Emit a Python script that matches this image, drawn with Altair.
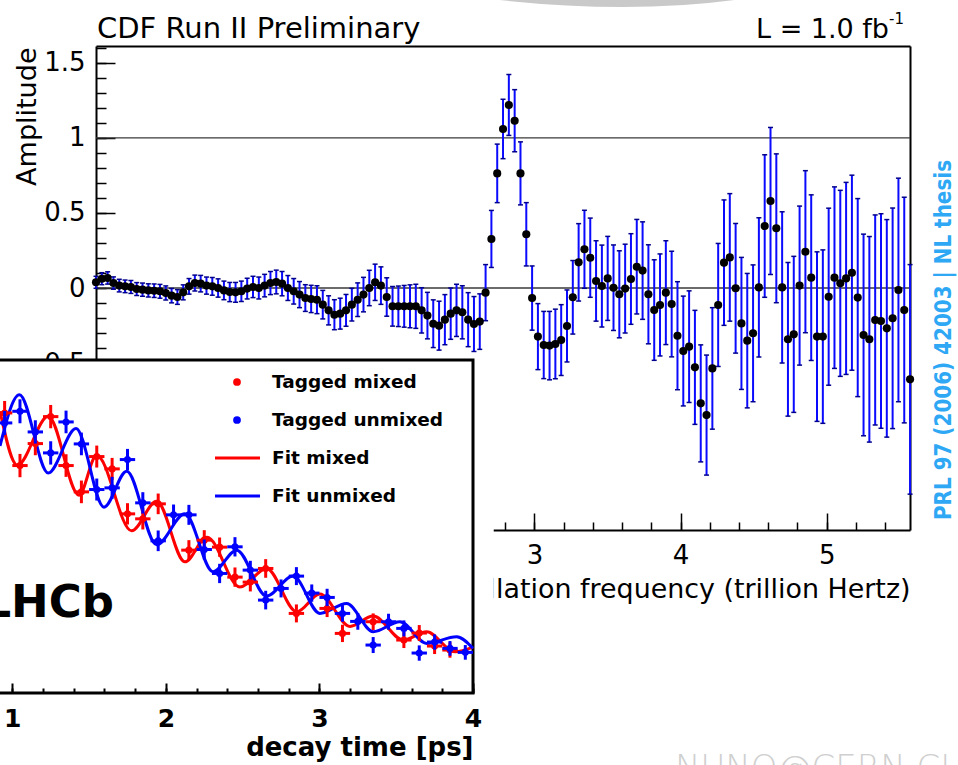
import altair as alt
import numpy as np
import pandas as pd

FONT = "DejaVu Sans"

# ---------------- Main panel: CDF amplitude scan ----------------
SCAN_STEP = 0.25                 # scan step in ps^-1
PS_TO_THZ = 1.0 / (2 * np.pi)    # ps^-1 -> trillion Hertz

AMPLITUDE = [
    0.038, 0.062, 0.067, 0.033, 0.016, 0.011, 0.007, -0.007, -0.011, -0.016,
    -0.018, -0.022, -0.033, -0.051, -0.060, -0.029, 0.011, 0.033, 0.029, 0.016,
    0.011, 0.000, -0.016, -0.027, -0.029, -0.022, -0.004, 0.007, 0.000, 0.016,
    0.033, 0.040, 0.029, 0.000, -0.022, -0.044, -0.067, -0.073, -0.078, -0.111,
    -0.149, -0.178, -0.171, -0.149, -0.111, -0.078, -0.044, 0.000, 0.038, 0.016,
    -0.060, -0.122, -0.122, -0.122, -0.122, -0.122, -0.149, -0.184, -0.238, -0.251,
    -0.211, -0.171, -0.149, -0.162, -0.211, -0.240, -0.224, -0.031, 0.327, 0.764,
    1.060, 1.220, 1.115, 0.764, 0.358, -0.067, -0.324, -0.380, -0.384, -0.373,
    -0.347, -0.253, -0.062, 0.171, 0.258, 0.202, 0.047, 0.013, 0.064, 0.002,
    -0.042, -0.004, 0.060, 0.142, 0.116, -0.042, -0.147, -0.113, -0.031, -0.107,
    -0.318, -0.420, -0.391, -0.529, -0.769, -0.847, -0.536, -0.113, 0.169, 0.204,
    -0.002, -0.236, -0.351, -0.302, 0.004, 0.413, 0.580, 0.398, 0.004, -0.342,
    -0.309, 0.016, 0.242, 0.069, -0.324, -0.324, -0.058, 0.069, 0.031, 0.064,
    0.102, -0.064, -0.313, -0.342, -0.213, -0.220, -0.269, -0.202, -0.013, -0.147,
    -0.609,
]
AMP_ERR = [
    0.040, 0.040, 0.041, 0.041, 0.042, 0.042, 0.043, 0.043, 0.044, 0.044,
    0.045, 0.046, 0.047, 0.048, 0.049, 0.050, 0.052, 0.053, 0.055, 0.057,
    0.059, 0.061, 0.062, 0.064, 0.066, 0.068, 0.069, 0.071, 0.073, 0.075,
    0.077, 0.079, 0.081, 0.083, 0.085, 0.087, 0.089, 0.091, 0.093, 0.095,
    0.097, 0.100, 0.103, 0.106, 0.109, 0.112, 0.115, 0.118, 0.121, 0.125,
    0.128, 0.132, 0.135, 0.139, 0.143, 0.147, 0.151, 0.155, 0.159, 0.163,
    0.167, 0.171, 0.174, 0.177, 0.180, 0.183, 0.185, 0.187, 0.190, 0.195,
    0.198, 0.203, 0.207, 0.210, 0.211, 0.214, 0.220, 0.224, 0.228, 0.232,
    0.236, 0.240, 0.245, 0.258, 0.260, 0.264, 0.268, 0.273, 0.280, 0.285,
    0.290, 0.296, 0.302, 0.315, 0.325, 0.330, 0.335, 0.340, 0.346, 0.352,
    0.360, 0.366, 0.372, 0.380, 0.390, 0.400, 0.405, 0.410, 0.418, 0.425,
    0.432, 0.440, 0.448, 0.456, 0.464, 0.475, 0.490, 0.496, 0.504, 0.512,
    0.520, 0.530, 0.540, 0.552, 0.565, 0.578, 0.590, 0.605, 0.620, 0.640,
    0.650, 0.660, 0.672, 0.685, 0.700, 0.715, 0.725, 0.735, 0.745, 0.752,
    0.765,
]
REF_LINES = [0.0, 1.0]

X_MAIN = [0.0, 5.57]
Y_MAIN = [-1.613, 1.613]
X_MAJOR = [0, 1, 2, 3, 4, 5]
X_MINOR = [round(0.2 * k, 1) for k in range(28)]
Y_MAJOR = [-1.5, -1.0, -0.5, 0.0, 0.5, 1.0, 1.5]
Y_MINOR = [round(-1.6 + 0.1 * k, 1) for k in range(33)]

# ---------------- Inset: LHCb decay-time distribution ----------------
BIN_HALF = 0.05
RED_T = [0.95, 1.05, 1.15, 1.25, 1.35, 1.45, 1.55, 1.65, 1.75, 1.85, 1.95, 2.15, 2.25,
         2.35, 2.45, 2.55, 2.65, 2.85, 3.05, 3.15, 3.35, 3.55, 3.65, 3.75, 3.85]
RED_V = [0.841, 0.683, 0.749, 0.830, 0.683, 0.604, 0.710, 0.673, 0.538, 0.523, 0.568, 0.429, 0.459,
         0.438, 0.348, 0.333, 0.374, 0.239, 0.254, 0.179, 0.214, 0.159, 0.180, 0.141, 0.129]
RED_E = [0.036, 0.035, 0.035, 0.035, 0.034, 0.034, 0.033, 0.033, 0.032, 0.032, 0.031, 0.030, 0.030,
         0.029, 0.029, 0.028, 0.028, 0.027, 0.026, 0.026, 0.025, 0.024, 0.024, 0.024, 0.023]
BLUE_T = [0.95, 1.05, 1.15, 1.25, 1.35, 1.45, 1.55, 1.65, 1.75, 1.85, 1.95, 2.05, 2.15, 2.25, 2.35, 2.45,
          2.55, 2.65, 2.75, 2.85, 2.95, 3.05, 3.15, 3.25, 3.35, 3.45, 3.55, 3.65, 3.75, 3.85, 3.95]
BLUE_V = [0.811, 0.846, 0.784, 0.721, 0.814, 0.748, 0.611, 0.616, 0.701, 0.571, 0.457, 0.535, 0.535, 0.431,
          0.359, 0.439, 0.369, 0.279, 0.314, 0.351, 0.300, 0.287, 0.239, 0.215, 0.144, 0.214, 0.194,
          0.120, 0.153, 0.134, 0.122]
BLUE_E = [0.036, 0.036, 0.035, 0.035, 0.034, 0.034, 0.033, 0.033, 0.032, 0.032, 0.031, 0.031, 0.030, 0.030,
          0.029, 0.029, 0.028, 0.028, 0.027, 0.027, 0.026, 0.026, 0.025, 0.025, 0.024, 0.024, 0.024,
          0.023, 0.023, 0.022, 0.022]
FIT_MIXED_T = [0.920, 1.033, 1.234, 1.434, 1.549, 1.777, 1.940, 2.124, 2.268, 2.482, 2.656, 2.852,
               3.003, 3.199, 3.350, 3.546, 3.698, 3.882, 4.000]
FIT_MIXED_V = [0.846, 0.684, 0.831, 0.594, 0.714, 0.487, 0.576, 0.394, 0.468, 0.318, 0.374, 0.244,
               0.297, 0.200, 0.231, 0.159, 0.184, 0.124, 0.138]
FIT_UNMIXED_T = [0.920, 1.046, 1.234, 1.415, 1.597, 1.745, 1.940, 2.124, 2.307, 2.461, 2.656, 2.829,
                 3.003, 3.177, 3.350, 3.524, 3.698, 3.893, 4.000]
FIT_UNMIXED_V = [0.742, 0.896, 0.661, 0.794, 0.558, 0.666, 0.445, 0.538, 0.364, 0.429, 0.291, 0.351,
                 0.239, 0.269, 0.184, 0.214, 0.149, 0.169, 0.134]
LEGEND_LABELS = ["Tagged mixed", "Tagged unmixed", "Fit mixed", "Fit unmixed"]
LEGEND_KIND = ["point", "point", "line", "line"]
RED, BLUE = "#ff0000", "#0000ff"
LEGEND_COLORS = [RED, BLUE, RED, BLUE]

X_INSET = [1.0, 4.0]
Y_INSET = [0.0, 1.0]
INSET_MAJOR = [1, 2, 3, 4]
INSET_MINOR = [round(0.8 + 0.2 * k, 1) for k in range(17)]

# ---------------- scales ----------------
XM = alt.Scale(domain=X_MAIN, range=[96, 910], nice=False, zero=False)
YM = alt.Scale(domain=Y_MAIN, range=[530, 46], nice=False, zero=False)
XI = alt.Scale(domain=X_INSET, range=[12.3, 473], nice=False, zero=False)
YI = alt.Scale(domain=Y_INSET, range=[693, 360], nice=False, zero=False)
LROW = alt.Scale(domain=[0, 3], range=[382, 496], nice=False, zero=False)

# ---------------- data frames ----------------
main_df = pd.DataFrame({"f": np.arange(len(AMPLITUDE)) * SCAN_STEP * PS_TO_THZ,
                        "amp": AMPLITUDE, "err": AMP_ERR})
main_df["lo"] = main_df["amp"] - main_df["err"]
main_df["hi"] = main_df["amp"] + main_df["err"]
ref_df = pd.DataFrame({"h": REF_LINES, "x0": X_MAIN[0], "x1": X_MAIN[1]})


def pts_df(t, v, e):
    d = pd.DataFrame({"t": t, "v": v, "e": e})
    d["lo"], d["hi"] = d.v - d.e, d.v + d.e
    d["tl"], d["th"] = d.t - BIN_HALF, d.t + BIN_HALF
    return d


red_df = pts_df(RED_T, RED_V, RED_E)
blue_df = pts_df(BLUE_T, BLUE_V, BLUE_E)
fit_red_df = pd.DataFrame({"t": FIT_MIXED_T, "v": FIT_MIXED_V})
fit_blue_df = pd.DataFrame({"t": FIT_UNMIXED_T, "v": FIT_UNMIXED_V})
panel_df = pd.DataFrame({"t0": [0.8], "t1": [X_INSET[1]], "v0": [Y_INSET[0]], "v1": [Y_INSET[1]]})
margin_df = pd.DataFrame({"t0": [0.8], "t1": [4.135], "v0": [-0.25], "v1": [Y_INSET[1]]})
legend_df = pd.DataFrame({"row": list(range(4)), "label": LEGEND_LABELS,
                          "kind": LEGEND_KIND, "col": LEGEND_COLORS})

# ---------------- axes ----------------
ax_x_main = alt.Axis(orient="bottom", offset=-235, values=X_MAJOR, ticks=False, tickSize=0,
                     domain=True, domainColor="black", domainWidth=2, grid=False,
                     labelFont=FONT, labelFontSize=26, labelColor="black", labelPadding=12,
                     labelFlush=False, labelOverlap=False,
                     titleFont=FONT, titleFontSize=26.9, titleFontWeight="normal", titleColor="black",
                     titleX=910, titleY=67, titleAlign="right", titleBaseline="alphabetic")
ax_y_main = alt.Axis(orient="left", offset=-96, values=Y_MAJOR, ticks=False, tickSize=0,
                     domain=True, domainColor="black", domainWidth=2, grid=False, format="~g",
                     labelFont=FONT, labelFontSize=26, labelColor="black", labelPadding=11,
                     labelFlush=False, labelOverlap=False,
                     titleFont=FONT, titleFontSize=27, titleFontWeight="normal", titleColor="black",
                     titleAngle=270, titleX=-61, titleY=47, titleAlign="right", titleBaseline="alphabetic")


def tick_axis(orient, offset, values, size, z=0, width=1.5):
    return alt.Axis(orient=orient, offset=offset, values=values, labels=False, domain=False,
                    ticks=True, tickSize=size, tickWidth=width, tickColor="black", grid=False, zindex=z)


def frame_axis(orient, offset, width=2):
    return alt.Axis(orient=orient, offset=offset, labels=False, ticks=False, domain=True,
                    domainColor="black", domainWidth=width, grid=False)


ax_xi = alt.Axis(orient="bottom", offset=-72, values=INSET_MAJOR, ticks=False, tickSize=0, domain=False,
                 grid=False, labelFont=FONT, labelFontSize=25, labelFontWeight="bold", labelColor="black",
                 labelPadding=13, labelFlush=False, labelOverlap=False, zindex=1,
                 titleFont=FONT, titleFontSize=26, titleFontWeight="bold", titleColor="black",
                 titleX=473, titleY=62, titleAlign="right", titleBaseline="alphabetic")

# ---------------- main layers ----------------
ref_lines = alt.Chart(ref_df).mark_rule(color="#3a3a3a", strokeWidth=1.3).encode(
    x=alt.X("x0:Q", scale=XM, axis=None), x2="x1:Q",
    y=alt.Y("h:Q", scale=YM, axis=None))

bars = alt.Chart(main_df).mark_rule(color="#0a0aff", strokeWidth=2).encode(
    x=alt.X("f:Q", scale=XM, axis=ax_x_main, title="Oscillation frequency (trillion Hertz)"),
    y=alt.Y("lo:Q", scale=YM, axis=ax_y_main, title="Amplitude"), y2="hi:Q")

caps_hi = alt.Chart(main_df).mark_tick(orient="horizontal", size=5, thickness=1.5, color="#00008b",
                                       opacity=1).encode(
    x=alt.X("f:Q", scale=XM, axis=tick_axis("top", -530, X_MAJOR, 17), title=None),
    y=alt.Y("hi:Q", scale=YM, axis=tick_axis("right", -862, Y_MAJOR, 19), title=None))

caps_lo = alt.Chart(main_df).mark_tick(orient="horizontal", size=5, thickness=1.5, color="#00008b",
                                       opacity=1).encode(
    x=alt.X("f:Q", scale=XM, axis=tick_axis("top", -530, X_MINOR, 8), title=None),
    y=alt.Y("lo:Q", scale=YM, axis=tick_axis("right", -862, Y_MINOR, 10), title=None))

points = alt.Chart(main_df).mark_circle(size=66, color="black", opacity=1).encode(
    x=alt.X("f:Q", scale=XM, axis=frame_axis("top", -46), title=None),
    y=alt.Y("amp:Q", scale=YM, axis=frame_axis("right", -48), title=None))

# ---------------- inset layers ----------------
margin = alt.Chart(margin_df).mark_rect(fill="white", strokeWidth=0).encode(
    x=alt.X("t0:Q", scale=XI, axis=None), x2="t1:Q",
    y=alt.Y("v0:Q", scale=YI, axis=None), y2="v1:Q")

panel = alt.Chart(panel_df).mark_rect(fill="white", stroke="black", strokeWidth=3).encode(
    x=alt.X("t0:Q", scale=XI, axis=None), x2="t1:Q",
    y=alt.Y("v0:Q", scale=YI, axis=None), y2="v1:Q")

fit_red = alt.Chart(fit_red_df).mark_line(color=RED, strokeWidth=3, interpolate="monotone").encode(
    x=alt.X("t:Q", scale=XI, axis=ax_xi, title="decay time [ps]"),
    y=alt.Y("v:Q", scale=YI, axis=None))

fit_blue = alt.Chart(fit_blue_df).mark_line(color=BLUE, strokeWidth=3, interpolate="monotone").encode(
    x=alt.X("t:Q", scale=XI, axis=tick_axis("top", -693, INSET_MAJOR, 10, z=1, width=2), title=None),
    y=alt.Y("v:Q", scale=YI, axis=None))


def cross_layers(d, color, with_axis=False):
    ax = tick_axis("top", -693, INSET_MINOR, 5, z=1, width=2) if with_axis else None
    vbar = alt.Chart(d).mark_rule(color=color, strokeWidth=3).encode(
        x=alt.X("t:Q", scale=XI, axis=ax, title=None),
        y=alt.Y("lo:Q", scale=YI, axis=None), y2="hi:Q")
    hbar = alt.Chart(d).mark_rule(color=color, strokeWidth=3).encode(
        x=alt.X("tl:Q", scale=XI, axis=None), x2="th:Q",
        y=alt.Y("v:Q", scale=YI, axis=None))
    dot = alt.Chart(d).mark_circle(color=color, size=50, opacity=1).encode(
        x=alt.X("t:Q", scale=XI, axis=None),
        y=alt.Y("v:Q", scale=YI, axis=None))
    return [vbar, hbar, dot]


leg_dots = alt.Chart(legend_df).transform_filter("datum.kind == 'point'").mark_circle(
    size=60, opacity=1).encode(
    x=alt.value(237), y=alt.Y("row:Q", scale=LROW, axis=None),
    color=alt.Color("col:N", scale=None, legend=None))
leg_lines = alt.Chart(legend_df).transform_filter("datum.kind == 'line'").mark_rule(
    strokeWidth=3).encode(
    x=alt.value(215), x2=alt.value(260), y=alt.Y("row:Q", scale=LROW, axis=None),
    color=alt.Color("col:N", scale=None, legend=None))
leg_text = alt.Chart(legend_df).mark_text(align="left", baseline="middle", font=FONT, fontSize=18.5,
                                          fontWeight="bold", color="black").encode(
    x=alt.value(272), y=alt.Y("row:Q", scale=LROW, axis=None), text="label:N")


def label(text, x, y, **kw):
    return alt.Chart(pd.DataFrame({"s": [text]})).mark_text(**kw).encode(
        x=alt.value(x), y=alt.value(y), text="s:N")


title_txt = label("CDF Run II Preliminary", 97, 38, align="left", baseline="alphabetic",
                  font=FONT, fontSize=29, color="black")
lumi_txt = label("L = 1.0 fb", 889, 38, align="right", baseline="alphabetic",
                 font=FONT, fontSize=27, color="black")
lumi_sup = label("-1", 889, 24, align="left", baseline="alphabetic", font=FONT, fontSize=15,
                 color="black")
lhcb_txt = label("LHCb", 114, 617, align="right", baseline="alphabetic", font=FONT, fontSize=45,
                 fontWeight="bold", color="black")
prl_txt = label("PRL 97 (2006) 42003 | NL thesis", 951, 340, align="center", baseline="alphabetic",
                angle=270, font="Liberation Sans Narrow, DejaVu Sans Condensed, DejaVu Sans",
                fontSize=22.2, fontWeight="bold", color="#2ea8f4")
mark_txt = label("NUNO@CERN.CH", 675, 779, align="left", baseline="alphabetic", font=FONT,
                 fontSize=34, fontWeight=200, color="#cfcfcf")
smudge = alt.Chart(pd.DataFrame({"k": [0]})).mark_point(
    shape="M -1 -1 L 1 -1 Q 0.1 -0.88 -1 -1 Z", size=55225, filled=True, fill="#c9c9c9",
    strokeWidth=0, opacity=1).encode(x=alt.value(617), y=alt.value(117.5))

layers = [ref_lines, bars, caps_hi, caps_lo, points,
          margin, panel, fit_red, fit_blue]
layers += cross_layers(red_df, RED, with_axis=True)
layers += cross_layers(blue_df, BLUE)
layers += [leg_dots, leg_lines, leg_text, title_txt, lumi_txt, lumi_sup, lhcb_txt, prl_txt,
           mark_txt, smudge]

chart = alt.layer(*layers).resolve_scale(x="independent", y="independent").properties(
    width=958, height=765, padding=0, background="white",
    autosize=alt.AutoSizeParams(type="none")).configure_view(strokeWidth=0)

chart.save("out.html", embed_options={"renderer": "svg", "actions": False})
